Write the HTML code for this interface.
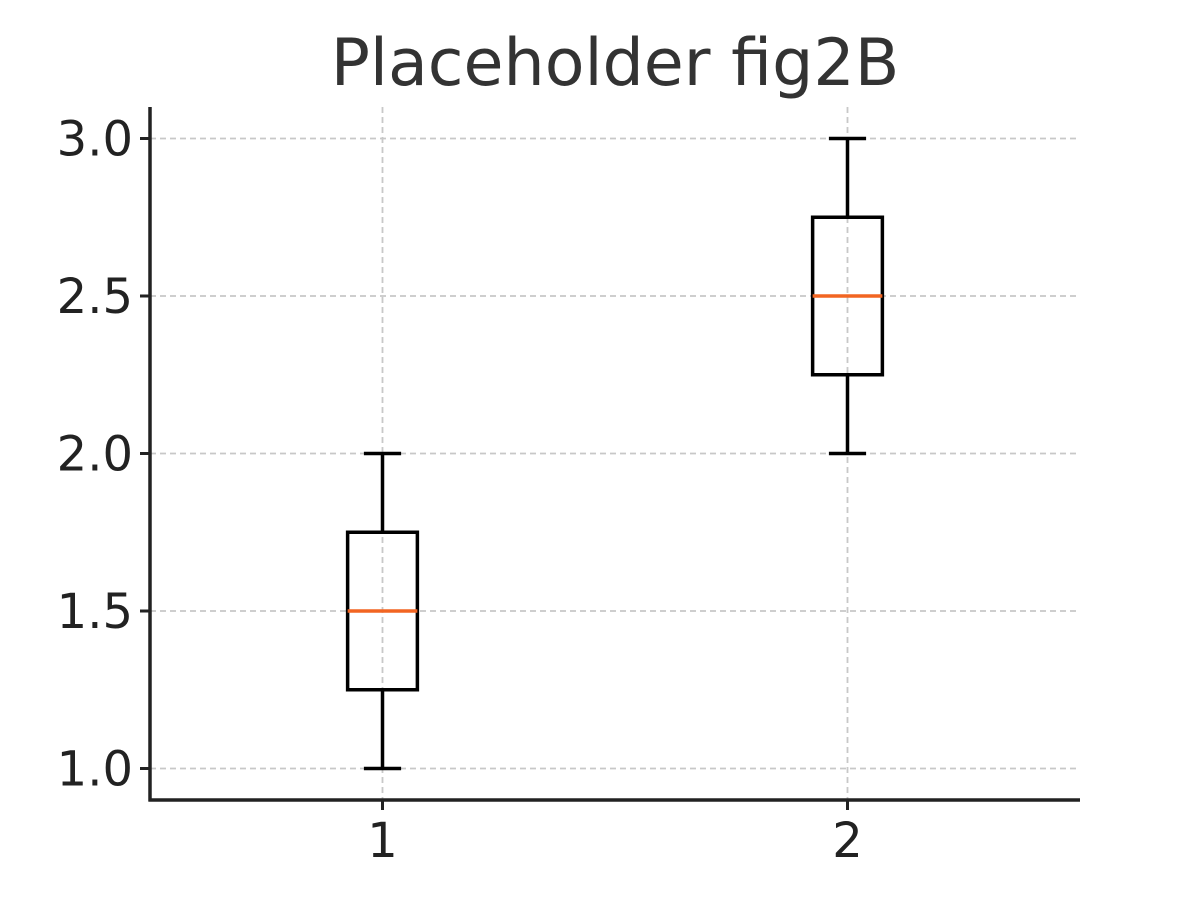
<!DOCTYPE html>
<html><head><meta charset="utf-8"><style>
body{margin:0;background:#fff;}
svg{display:block;font-family:"DejaVu Sans","Liberation Sans",sans-serif;}
</style></head><body>
<svg id="chart" width="1200" height="900" viewBox="0 0 1200 900">
<text x="615" y="85" text-anchor="middle" font-size="65" fill="#333">Placeholder fig2B</text>
<g id="grid"></g><g id="boxes"></g><g id="axes"></g>
</svg>
<script>
const categories=["1","2"];
const whiskerLow=[1.0,2.0];
const q1=[1.25,2.25];
const medians=[1.5,2.5];
const q3=[1.75,2.75];
const whiskerHigh=[2.0,3.0];
const yTicks=[1.0,1.5,2.0,2.5,3.0];
const yTickLabels=["1.0","1.5","2.0","2.5","3.0"];
const L=150,R=1080,T=107,B=800;
const xs=i=>L+(i+1-0.5)/2*(R-L);
const ys=v=>B-(v-0.9)/2.2*(B-T);
const NS="http://www.w3.org/2000/svg";
function mk(p,tag,a){const e=document.createElementNS(NS,tag);for(const k in a)e.setAttribute(k,a[k]);p.appendChild(e);return e;}
const grid=document.getElementById('grid'),boxes=document.getElementById('boxes'),axes=document.getElementById('axes');
yTicks.forEach((t,i)=>{
 const y=ys(t);
 const g=mk(grid,'line',{x1:L,x2:R,y1:y,y2:y,stroke:'#c8c8c8','stroke-width':1.8,'stroke-dasharray':'6,4'});
 
 
 mk(axes,'line',{x1:L-10,x2:L,y1:y,y2:y,stroke:'#222','stroke-width':3});
 const tx=mk(axes,'text',{x:L-17,y:y+17,'text-anchor':'end','font-size':48,fill:'#222'});
 tx.textContent=yTickLabels[i];
 
 
});
categories.forEach((c,i)=>{
 const x=xs(i);
 const g=mk(grid,'line',{x1:x,x2:x,y1:T,y2:B,stroke:'#c8c8c8','stroke-width':1.8,'stroke-dasharray':'6,4'});
 
 
 mk(axes,'line',{x1:x,x2:x,y1:B,y2:B+10,stroke:'#222','stroke-width':3});
 const tx=mk(axes,'text',{x:x,y:B+57,'text-anchor':'middle','font-size':48,fill:'#222'});
 tx.textContent=c;
 
 
 const bw=0.15*(R-L)/2, cw=0.08*(R-L)/2;
 const grp=mk(boxes,'g',{});
 
 
 const st={stroke:'#000','stroke-width':3.5,fill:'none'};
 mk(grp,'line',Object.assign({x1:x,x2:x,y1:ys(whiskerLow[i]),y2:ys(q1[i])},st));
 mk(grp,'line',Object.assign({x1:x,x2:x,y1:ys(q3[i]),y2:ys(whiskerHigh[i])},st));
 mk(grp,'line',Object.assign({x1:x-cw/2,x2:x+cw/2,y1:ys(whiskerLow[i]),y2:ys(whiskerLow[i])},st));
 mk(grp,'line',Object.assign({x1:x-cw/2,x2:x+cw/2,y1:ys(whiskerHigh[i]),y2:ys(whiskerHigh[i])},st));
 mk(grp,'rect',Object.assign({x:x-bw/2,y:ys(q3[i]),width:bw,height:ys(q1[i])-ys(q3[i])},st));
 mk(grp,'line',{x1:x-bw/2,x2:x+bw/2,y1:ys(medians[i]),y2:ys(medians[i]),stroke:'#f26522','stroke-width':3.5});
});
mk(axes,'line',{x1:L,x2:L,y1:T,y2:B+1.5,stroke:'#222','stroke-width':3.5});
mk(axes,'line',{x1:L-1.5,x2:R,y1:B,y2:B,stroke:'#222','stroke-width':3.5});
</script>
</body></html>
